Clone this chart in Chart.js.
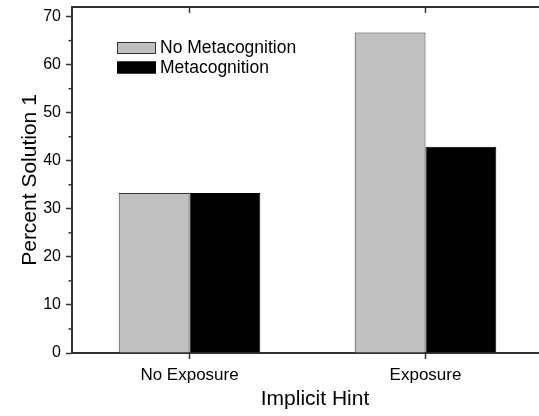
<!DOCTYPE html>
<html>
<head>
<meta charset="utf-8">
<script src="https://cdn.jsdelivr.net/npm/chart.js@4"></script>
<style>
  html, body { margin: 0; padding: 0; background: #fff; }
  #wrap { width: 539px; height: 416px; }
</style>
</head>
<body>
<div id="wrap"><canvas id="myChart" width="539" height="416"></canvas></div>
<script>
// values
const categories = ["No Exposure", "Exposure"];
const categoryPos = [1, 2];
const noMeta = [33.3, 66.7];
const meta = [33.3, 42.9];
const seriesNames = ["No Metacognition", "Metacognition"];
const yMajor = [0, 10, 20, 30, 40, 50, 60, 70];
const yMinor = [5, 15, 25, 35, 45, 55, 65];
const xTitle = "Implicit Hint";

const FONT = "'Liberation Sans', Arial, sans-serif";
const AXIS = "#333";

// top line, minor ticks, inward top ticks, x title and the legend
const framePlugin = {
  id: "frame",
  afterDraw(chart) {
    const ctx = chart.ctx;
    const a = chart.chartArea;
    const xs = chart.scales.x;
    const ys = chart.scales.y;
    ctx.save();
    ctx.strokeStyle = AXIS;
    ctx.lineWidth = 2;
    ctx.beginPath();
    ctx.moveTo(a.left, a.top);
    ctx.lineTo(chart.width, a.top);
    ctx.stroke();
    ctx.lineWidth = 1.5;
    categoryPos.forEach(v => {
      const px = xs.getPixelForValue(v);
      ctx.beginPath();
      ctx.moveTo(px, a.top);
      ctx.lineTo(px, a.top + 6);
      ctx.stroke();
    });
    yMinor.forEach(v => {
      const py = ys.getPixelForValue(v);
      ctx.beginPath();
      ctx.moveTo(a.left - 3.5, py);
      ctx.lineTo(a.left, py);
      ctx.stroke();
    });
    // x title: the original plot is cut off on the right, so its centre sits right of ours
    ctx.fillStyle = "#000";
    ctx.font = "21px " + FONT;
    ctx.textAlign = "center";
    ctx.textBaseline = "middle";
    ctx.fillText(xTitle, 315, 399);
    // legend
    ctx.textAlign = "left";
    const lx = 117, ly = 42;
    chart.data.datasets.forEach((ds, i) => {
      const y = ly + i * 19.5;
      ctx.fillStyle = ds.backgroundColor;
      ctx.fillRect(lx, y, 39, 12);
      ctx.strokeStyle = ds.borderColor;
      ctx.lineWidth = 1;
      ctx.strokeRect(lx + 0.5, y + 0.5, 38, 11);
      ctx.fillStyle = "#000";
      ctx.font = "17.5px " + FONT;
      ctx.textBaseline = "middle";
      ctx.fillText(ds.label, lx + 43, y + 6.5);
    });
    ctx.restore();
  }
};

new Chart(document.getElementById("myChart"), {
  type: "bar",
  data: {
    datasets: [
      {
        label: seriesNames[0],
        data: categoryPos.map((x, i) => ({ x: x, y: noMeta[i] })),
        backgroundColor: "#c0c0c0",
        borderColor: "#333",
        borderWidth: 1,
        borderSkipped: "bottom"
      },
      {
        label: seriesNames[1],
        data: categoryPos.map((x, i) => ({ x: x, y: meta[i] })),
        backgroundColor: "#000",
        borderColor: "#000",
        borderWidth: 1,
        borderSkipped: "bottom"
      }
    ]
  },
  options: {
    responsive: false,
    animation: false,
    layout: { padding: { top: 7, right: 0, left: 0, bottom: 0 } },
    datasets: { bar: { categoryPercentage: 0.6, barPercentage: 1.0 } },
    plugins: {
      legend: { display: false },
      tooltip: { enabled: false }
    },
    scales: {
      x: {
        type: "linear",
        offset: false,
        min: 0.502,
        max: 2.481,
        afterBuildTicks: (s) => { s.ticks = categoryPos.map(v => ({ value: v })); },
        afterFit: (s) => { s.height = 63; s.paddingLeft = 0; s.paddingRight = 0; },
        grid: { offset: false, drawOnChartArea: false, drawTicks: true, tickLength: 6, color: AXIS, tickWidth: 1.5 },
        border: { display: true, color: AXIS, width: 2 },
        ticks: {
          color: "#000",
          font: { family: FONT, size: 17 },
          padding: 6,
          autoSkip: false,
          maxRotation: 0,
          callback: (v) => categories[categoryPos.indexOf(v)]
        }
      },
      y: {
        min: 0,
        max: 72,
        afterBuildTicks: (s) => { s.ticks = yMajor.map(v => ({ value: v })); },
        afterFit: (s) => { s.width = 72; s.paddingTop = 0; s.paddingBottom = 0; },
        grid: { drawOnChartArea: false, drawTicks: true, tickLength: 6, color: AXIS, tickWidth: 1.5 },
        border: { display: true, color: AXIS, width: 2 },
        ticks: {
          color: "#000",
          font: { family: FONT, size: 16 },
          padding: 5,
          autoSkip: false
        },
        title: {
          display: true,
          text: "Percent Solution 1",
          color: "#000",
          font: { family: FONT, size: 21 },
          padding: { top: 18, bottom: 0 }
        }
      }
    }
  },
  plugins: [framePlugin]
});
</script>
</body>
</html>
